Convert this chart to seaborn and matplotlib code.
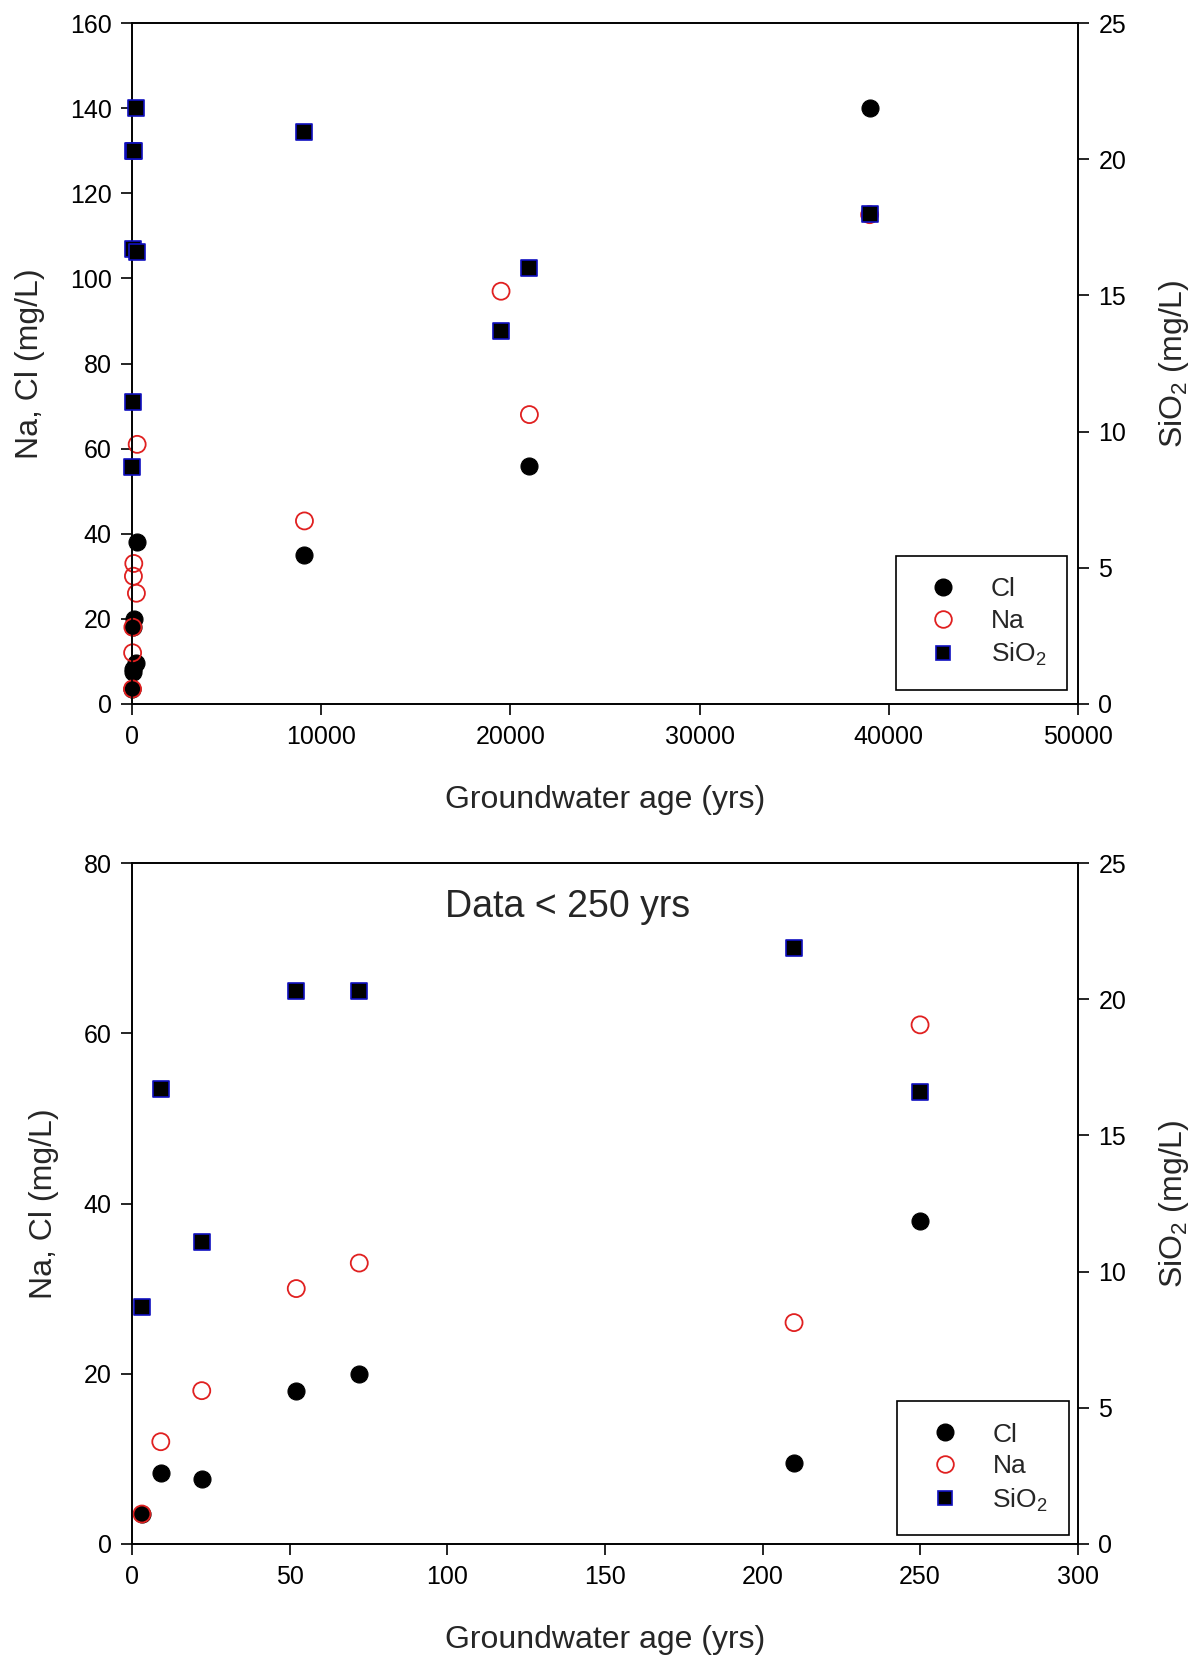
import matplotlib
matplotlib.use("Agg")
import matplotlib.pyplot as plt
import seaborn as sns
import numpy as np
import pandas as pd

# Âges des eaux souterraines (années) et concentrations (mg/L)
ages = [3, 9, 22, 52, 72, 210, 250, 9100, 19500, 21000, 39000]
cl = [3.5, 8.3, 7.6, 18, 20, 9.5, 38, 35, np.nan, 56, 140]
na = [3.5, 12, 18, 30, 33, 26, 61, 43, 97, 68, 115]
sio2 = [8.7, 16.7, 11.1, 20.3, 20.3, 21.9, 16.6, 21.0, 13.7, 16.0, 18.0]

df = pd.DataFrame({"age": ages, "Cl": cl, "Na": na, "SiO2": sio2})
young = df[df["age"] <= 250]

sns.set_style("ticks")
plt.rcParams["font.family"] = ["Liberation Sans", "DejaVu Sans"]
plt.rcParams["mathtext.fontset"] = "custom"
plt.rcParams["mathtext.rm"] = "Liberation Sans"

fig = plt.figure(figsize=(12.04, 16.6), dpi=100)
ax_top = fig.add_axes([0.110, 0.576, 0.785, 0.410])
ax_bot = fig.add_axes([0.110, 0.070, 0.785, 0.410])


def draw_panel(ax, data, xlim, xticks, ylim, yticks, legend_anchor):
    # Cl et Na sur l'axe de gauche
    sns.scatterplot(data=data, x="age", y="Cl", ax=ax, s=150, color="black",
                    edgecolor="black", linewidth=0.8, marker="o", clip_on=False,
                    zorder=3, legend=False)
    sns.scatterplot(data=data, x="age", y="Na", ax=ax, s=150, facecolor="none",
                    edgecolor="#e02020", linewidth=1.3, marker="o", clip_on=False,
                    zorder=4, legend=False)
    # SiO2 sur l'axe de droite
    ax2 = ax.twinx()
    sns.scatterplot(data=data, x="age", y="SiO2", ax=ax2, s=130, color="black",
                    edgecolor="#1010c0", linewidth=1.2, marker="s", clip_on=False,
                    zorder=5, legend=False)

    ax.set_xlim(*xlim)
    ax.set_xticks(xticks)
    ax.set_ylim(*ylim)
    ax.set_yticks(yticks)
    ax2.set_ylim(0, 25)
    ax2.set_yticks([0, 5, 10, 15, 20, 25])

    ax.set_xlabel("Groundwater age (yrs)", fontsize=23, labelpad=26)
    ax.set_ylabel("Na, Cl (mg/L)", fontsize=23, labelpad=18)
    ax2.set_ylabel("SiO$_2$ (mg/L)", fontsize=23, rotation=90, labelpad=22)

    for a in (ax, ax2):
        for sp in a.spines.values():
            sp.set_visible(True)
            sp.set_color("black")
            sp.set_linewidth(1.2)
        a.tick_params(direction="out", length=8, width=1.2, labelsize=18,
                      colors="black", pad=7)

    h_cl = plt.Line2D([], [], ls="none", marker="o", ms=12, mfc="black",
                      mec="black", label="Cl")
    h_na = plt.Line2D([], [], ls="none", marker="o", ms=12, mfc="none",
                      mec="#e02020", mew=1.3, label="Na")
    h_si = plt.Line2D([], [], ls="none", marker="s", ms=10, mfc="black",
                      mec="#1010c0", mew=1.2, label="SiO$_2$")
    leg = ax2.legend(handles=[h_cl, h_na, h_si], loc="lower right",
                     bbox_to_anchor=legend_anchor, fontsize=19, frameon=True,
                     fancybox=False, edgecolor="black", framealpha=1,
                     borderpad=0.8, handletextpad=0.8, labelspacing=0.3,
                     borderaxespad=0)
    leg.get_frame().set_linewidth(1.2)
    return ax2


draw_panel(ax_top, df, (0, 50000), range(0, 50001, 10000), (0, 160),
           range(0, 161, 20), (0.989, 0.021))
draw_panel(ax_bot, young, (0, 300), range(0, 301, 50), (0, 80),
           range(0, 81, 20), (0.991, 0.013))
ax_bot.text(0.46, 0.935, "Data < 250 yrs", transform=ax_bot.transAxes,
            fontsize=27, ha="center", va="center")

fig.savefig("out.png", dpi=100)
plt.close(fig)
